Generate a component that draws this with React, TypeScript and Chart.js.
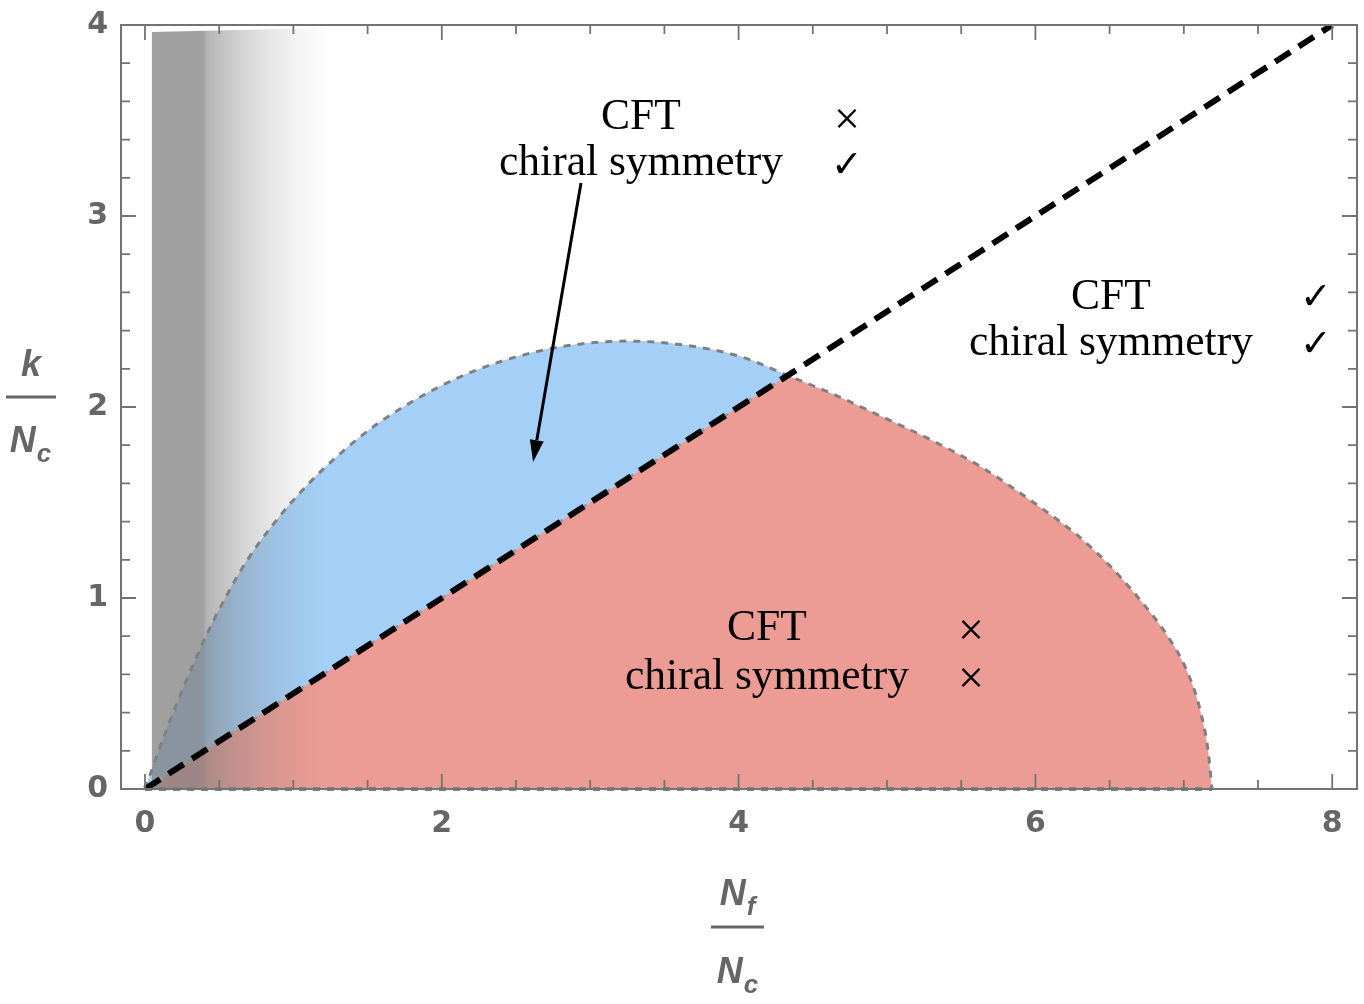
import React, { useEffect, useRef } from "react";
import { Chart, registerables } from "chart.js";

Chart.register(...registerables);

// ---- data ----
const curveX = [0, 0.05, 0.15, 0.25, 0.37, 0.45, 0.55, 0.674, 0.863, 1.092, 1.314, 1.536, 1.765, 1.988, 2.21, 2.46, 2.8, 3.25, 3.69, 4.03, 4.33, 4.62, 4.95, 5.29, 5.63, 5.96, 6.28, 6.5, 6.705, 6.887, 7.02, 7.11, 7.163, 7.19];
const curveY = [0, 0.11, 0.32, 0.515, 0.731, 0.863, 1.013, 1.18, 1.385, 1.59, 1.755, 1.895, 2.012, 2.108, 2.186, 2.253, 2.315, 2.345, 2.318, 2.26, 2.165, 2.073, 1.955, 1.83, 1.688, 1.515, 1.33, 1.17, 0.99, 0.805, 0.62, 0.414, 0.204, 0];

const diagX = [0, 8];
const diagY = [0, 4];

const diagEdgeX = [0, 4.33];
const diagEdgeY = [0, 2.165];

const baseX = [0, 7.19];
const baseY = [0, 0];

const bandX = [0.045, 0.045, 1.3];
const bandY = [0, 3.963, 3.985];
const bandStopX = [0.045, 0.39, 0.42, 0.64, 0.84, 1.05, 1.25];
const bandStopAlpha = [0.74, 0.74, 0.58, 0.35, 0.2, 0.078, 0];

const xTickValues = [0, 2, 4, 6, 8];
const yTickValues = [0, 1, 2, 3, 4];

const labelText = ["CFT", "chiral symmetry", "CFT", "chiral symmetry", "CFT", "chiral symmetry"];
const labelX = [3.342, 3.342, 6.509, 6.509, 4.191, 4.191];
const labelY = [3.455, 3.215, 2.513, 2.272, 0.78, 0.524];

const markText = ["\u00D7", "\u2713", "\u2713", "\u2713", "\u00D7", "\u00D7"];
const markX = [4.73, 4.73, 7.891, 7.891, 5.566, 5.566];
const markY = [3.495, 3.256, 2.566, 2.32, 0.818, 0.566];

const arrowStart = [2.938, 3.173];
const arrowEnd = [2.615, 1.712];

const xMin = -0.1617;
const xMax = 8.167;

const pts = (xs: number[], ys: number[]) => xs.map((x, i) => ({ x, y: ys[i] }));

const BLUE = "rgb(164,208,248)";
const RED = "rgb(236,156,148)";
const AXIS = "#737373";
const TEXTGRAY = "#666666";
const BANDRGB = "127,127,127";

const framePlugin = {
  id: "frameTicks",
  afterDatasetsDraw(chart: any) {
    const { ctx, chartArea } = chart;
    const xs = chart.scales.x;
    const ys = chart.scales.y;
    const { left, right, top, bottom } = chartArea;
    ctx.save();
    ctx.strokeStyle = AXIS;
    ctx.lineWidth = 2;
    ctx.strokeRect(left, top, right - left, bottom - top);
    ctx.lineWidth = 1.8;
    ctx.beginPath();
    for (let v = 0; v <= 8.0001; v += 0.5) {
      const px = xs.getPixelForValue(v);
      const major = Math.abs(v / 2 - Math.round(v / 2)) < 1e-6;
      const len = major ? 15 : 9;
      ctx.moveTo(px, bottom);
      ctx.lineTo(px, bottom - len);
      ctx.moveTo(px, top);
      ctx.lineTo(px, top + len);
    }
    for (let v = 0; v <= 4.0001; v += 0.2) {
      const py = ys.getPixelForValue(v);
      const major = Math.abs(v - Math.round(v)) < 1e-6;
      const len = major ? 15 : 9;
      ctx.moveTo(left, py);
      ctx.lineTo(left + len, py);
      ctx.moveTo(right, py);
      ctx.lineTo(right - len, py);
    }
    ctx.stroke();
    ctx.restore();
  },
};

const annotationPlugin = {
  id: "annotations",
  afterDraw(chart: any) {
    const { ctx, chartArea } = chart;
    const xs = chart.scales.x;
    const ys = chart.scales.y;
    ctx.save();
    // region labels
    ctx.fillStyle = "#000";
    ctx.textAlign = "center";
    ctx.textBaseline = "alphabetic";
    ctx.font = '43.5px "Liberation Serif", "DejaVu Serif", serif';
    labelText.forEach((t, i) => {
      ctx.fillText(t, xs.getPixelForValue(labelX[i]), ys.getPixelForValue(labelY[i]));
    });
    ctx.textBaseline = "middle";
    markText.forEach((t, i) => {
      ctx.font = t === "\u2713" ? 'bold 38px "DejaVu Sans", sans-serif' : '46px "Liberation Serif", "DejaVu Serif", serif';
      ctx.fillText(t, xs.getPixelForValue(markX[i]), ys.getPixelForValue(markY[i]));
    });
    // arrow
    const x0 = xs.getPixelForValue(arrowStart[0]);
    const y0 = ys.getPixelForValue(arrowStart[1]);
    const x1 = xs.getPixelForValue(arrowEnd[0]);
    const y1 = ys.getPixelForValue(arrowEnd[1]);
    const ang = Math.atan2(y1 - y0, x1 - x0);
    const headLen = 22;
    const headW = 7;
    const bx = x1 - headLen * Math.cos(ang);
    const by = y1 - headLen * Math.sin(ang);
    ctx.strokeStyle = "#000";
    ctx.lineWidth = 3;
    ctx.beginPath();
    ctx.moveTo(x0, y0);
    ctx.lineTo(bx, by);
    ctx.stroke();
    ctx.beginPath();
    ctx.moveTo(x1, y1);
    ctx.lineTo(bx + headW * Math.sin(ang), by - headW * Math.cos(ang));
    ctx.lineTo(bx - headW * Math.sin(ang), by + headW * Math.cos(ang));
    ctx.closePath();
    ctx.fillStyle = "#000";
    ctx.fill();

    // axis titles (fractions)
    ctx.fillStyle = TEXTGRAY;
    ctx.strokeStyle = TEXTGRAY;
    const drawSub = (main: string, sub: string, cx: number, base: number) => {
      ctx.font = 'italic bold 36px "Liberation Sans", Arial, sans-serif';
      const wm = ctx.measureText(main).width;
      ctx.font = 'italic bold 26px "Liberation Sans", Arial, sans-serif';
      const ws = ctx.measureText(sub).width;
      const start = cx - (wm + ws) / 2;
      ctx.textAlign = "left";
      ctx.textBaseline = "alphabetic";
      ctx.font = 'italic bold 36px "Liberation Sans", Arial, sans-serif';
      ctx.fillText(main, start, base);
      ctx.font = 'italic bold 26px "Liberation Sans", Arial, sans-serif';
      ctx.fillText(sub, start + wm + 1, base + 10);
    };
    // y title
    ctx.textAlign = "center";
    ctx.textBaseline = "alphabetic";
    ctx.font = 'italic bold 36px "Liberation Sans", Arial, sans-serif';
    ctx.fillText("k", 31, 376);
    ctx.lineWidth = 3;
    ctx.beginPath();
    ctx.moveTo(6, 397);
    ctx.lineTo(56, 397);
    ctx.stroke();
    drawSub("N", "c", 30, 452);
    // x title
    const cxT = (chartArea.left + chartArea.right) / 2 - 2;
    drawSub("N", "f", cxT, 905);
    ctx.beginPath();
    ctx.moveTo(cxT - 26, 927);
    ctx.lineTo(cxT + 27, 927);
    ctx.stroke();
    drawSub("N", "c", cxT, 983);
    ctx.restore();
  },
};

export default function App() {
  const ref = useRef<HTMLCanvasElement | null>(null);
  useEffect(() => {
    if (!ref.current) return;
    const tickFont = { family: '"DejaVu Sans", "Liberation Sans", sans-serif', size: 30, weight: "bold" as const };
    const chart = new Chart(ref.current, {
      type: "line",
      data: {
        datasets: [
          {
            label: "diag",
            data: pts(diagX, diagY),
            borderColor: "#000",
            borderWidth: 6,
            borderDash: [18, 10],
            pointRadius: 0,
            fill: false,
            order: 1,
          },
          {
            label: "outline",
            data: pts(curveX, curveY),
            borderColor: "#808080",
            borderWidth: 3,
            borderDash: [7, 7],
            pointRadius: 0,
            cubicInterpolationMode: "monotone",
            fill: false,
            order: 2,
          },
          {
            label: "baseline",
            data: pts(baseX, baseY),
            borderColor: "#808080",
            borderWidth: 4,
            borderDash: [7, 7],
            pointRadius: 0,
            fill: false,
            clip: false,
            order: 3,
          },
          {
            label: "diagEdge",
            data: pts(diagEdgeX, diagEdgeY),
            borderColor: "#999999",
            borderWidth: 3,
            borderDash: [7, 7],
            pointRadius: 0,
            fill: false,
            order: 4,
          },
          {
            label: "band",
            data: pts(bandX, bandY),
            borderWidth: 0,
            borderColor: "rgba(0,0,0,0)",
            pointRadius: 0,
            tension: 0,
            fill: "origin",
            backgroundColor: (c: any) => {
              const ch = c.chart;
              const xs = ch.scales && ch.scales.x;
              if (!xs || !ch.chartArea) return `rgba(${BANDRGB},0.74)`;
              const p0 = xs.getPixelForValue(bandStopX[0]);
              const p1 = xs.getPixelForValue(bandStopX[bandStopX.length - 1]);
              const g = ch.ctx.createLinearGradient(p0, 0, p1, 0);
              bandStopX.forEach((v, i) => {
                const f = (xs.getPixelForValue(v) - p0) / (p1 - p0);
                g.addColorStop(Math.min(1, Math.max(0, f)), `rgba(${BANDRGB},${bandStopAlpha[i]})`);
              });
              return g;
            },
            order: 5,
          },
          {
            label: "blue",
            data: pts(curveX, curveY),
            borderWidth: 0,
            borderColor: "rgba(0,0,0,0)",
            pointRadius: 0,
            cubicInterpolationMode: "monotone",
            fill: { target: 0, above: BLUE, below: "rgba(0,0,0,0)" },
            backgroundColor: BLUE,
            order: 6,
          },
          {
            label: "red",
            data: pts(curveX, curveY),
            borderWidth: 0,
            borderColor: "rgba(0,0,0,0)",
            pointRadius: 0,
            cubicInterpolationMode: "monotone",
            fill: "origin",
            backgroundColor: RED,
            order: 7,
          },
        ],
      },
      options: {
        animation: false,
        responsive: false,
        events: [],
        layout: { padding: { top: 25, right: 7, left: 0, bottom: 0 } },
        plugins: { legend: { display: false }, tooltip: { enabled: false }, title: { display: false } },
        scales: {
          x: {
            type: "linear",
            min: xMin,
            max: xMax,
            grid: { display: false, drawTicks: false },
            border: { display: false },
            ticks: { font: tickFont, color: TEXTGRAY, padding: 17, autoSkip: false, maxRotation: 0, callback: (v: any) => String(v) },
            afterBuildTicks: (s: any) => {
              s.ticks = xTickValues.map((v) => ({ value: v }));
            },
            afterFit: (s: any) => {
              s.height = 215;
              s.paddingLeft = 0;
              s.paddingRight = 0;
              s.paddingTop = 0;
              s.paddingBottom = 0;
            },
          },
          y: {
            type: "linear",
            min: 0,
            max: 4,
            grid: { display: false, drawTicks: false },
            border: { display: false },
            ticks: { font: tickFont, color: TEXTGRAY, padding: 13, autoSkip: false, callback: (v: any) => String(v) },
            afterBuildTicks: (s: any) => {
              s.ticks = yTickValues.map((v) => ({ value: v }));
            },
            afterFit: (s: any) => {
              s.width = 121;
              s.paddingLeft = 0;
              s.paddingRight = 0;
              s.paddingTop = 0;
              s.paddingBottom = 0;
            },
          },
        },
      },
      plugins: [framePlugin, annotationPlugin],
    } as any);
    return () => chart.destroy();
  }, []);
  return (
    <div style={{ position: "fixed", left: 0, top: 0, width: 1364, height: 1004, background: "#fff" }}>
      <canvas ref={ref} width={1364} height={1004} style={{ display: "block" }} />
    </div>
  );
}
